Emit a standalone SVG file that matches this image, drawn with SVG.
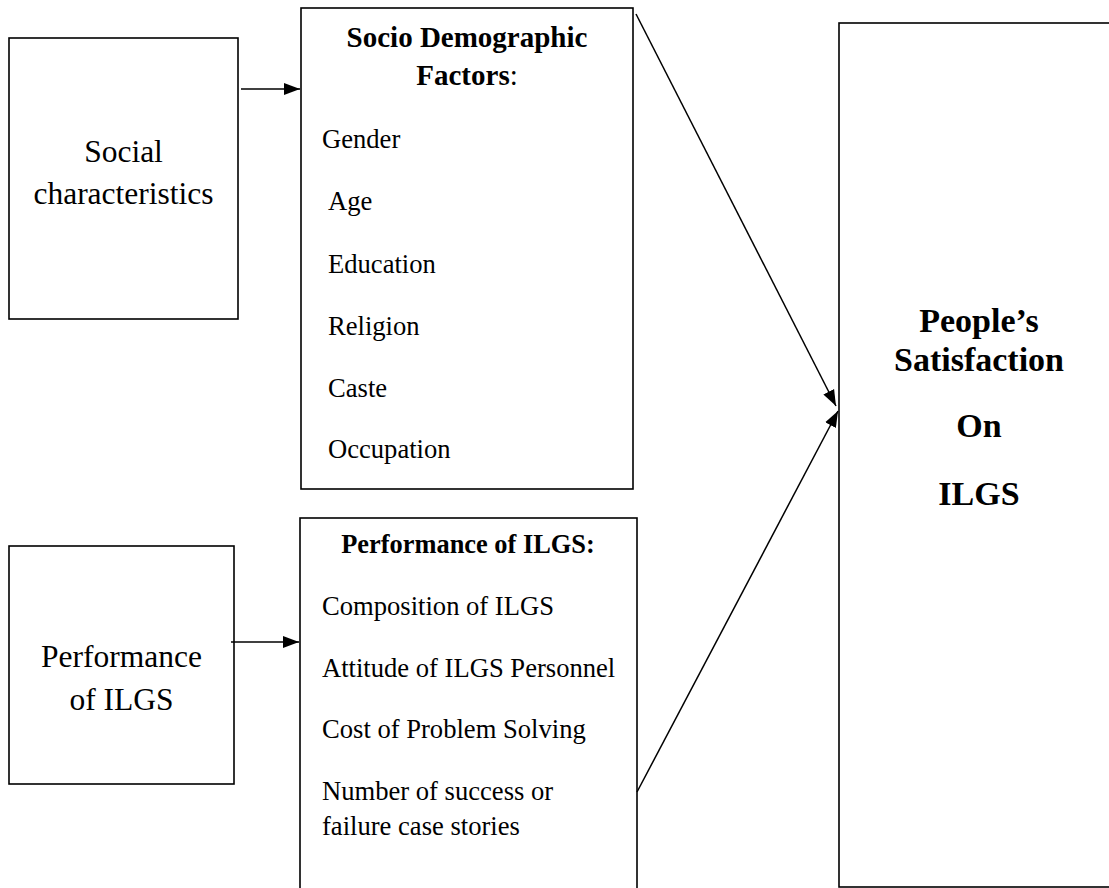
<svg xmlns="http://www.w3.org/2000/svg" width="1109" height="888" viewBox="0 0 1109 888">
<style>
.box{fill:#fff;stroke:#000;stroke-width:1.6}
.t{font-family:"Liberation Serif","Times New Roman",serif;fill:#000}
.b{font-weight:bold}
.item{font-size:26.6px}
.conn{stroke:#000;stroke-width:1.5;fill:none}
</style>
<defs>
<marker id="ah" markerUnits="userSpaceOnUse" markerWidth="17" markerHeight="14" refX="16" refY="7" orient="auto">
<path d="M0,1 L16,7 L0,13 Z" fill="#000"/>
</marker>
</defs>
<rect width="1109" height="888" fill="#fff"/>
<g id="social">
<rect class="box" x="9" y="38" width="229" height="281"/>
<text class="t" font-size="31.5" text-anchor="middle" x="123.5" y="162">Social</text>
<text class="t" font-size="31.5" text-anchor="middle" x="123.5" y="204">characteristics</text>
</g>
<g id="socio">
<rect class="box" x="301" y="8" width="332" height="481"/>
<text class="t b" font-size="29" text-anchor="middle" x="467" y="47">Socio Demographic</text>
<text class="t" font-size="29" text-anchor="middle" x="467" y="85"><tspan class="b">Factors</tspan>:</text>
<text class="t item" x="322" y="148">Gender</text>
<text class="t item" x="328" y="210">Age</text>
<text class="t item" x="328" y="273">Education</text>
<text class="t item" x="328" y="335">Religion</text>
<text class="t item" x="328" y="397">Caste</text>
<text class="t item" x="328" y="458">Occupation</text>
</g>
<g id="perfleft">
<rect class="box" x="9" y="546" width="225" height="238"/>
<text class="t" font-size="31.5" text-anchor="middle" x="121.5" y="667">Performance</text>
<text class="t" font-size="31.5" text-anchor="middle" x="121.5" y="710">of ILGS</text>
</g>
<g id="perf">
<rect class="box" x="300" y="518" width="337" height="380"/>
<text class="t b" font-size="26.4" text-anchor="middle" x="468" y="553">Performance of ILGS:</text>
<text class="t item" x="322" y="615">Composition of ILGS</text>
<text class="t item" x="322" y="677">Attitude of ILGS Personnel</text>
<text class="t item" x="322" y="738">Cost of Problem Solving</text>
<text class="t item" x="322" y="800">Number of success or</text>
<text class="t item" x="322" y="835">failure case stories</text>
</g>
<g id="satisfaction">
<rect class="box" x="839" y="23" width="290" height="864"/>
<text class="t b" font-size="34" text-anchor="middle" x="979" y="332">People’s</text>
<text class="t b" font-size="34" text-anchor="middle" x="979" y="371">Satisfaction</text>
<text class="t b" font-size="34" text-anchor="middle" x="979" y="437">On</text>
<text class="t b" font-size="34" text-anchor="middle" x="979" y="505">ILGS</text>
</g>
<g id="connectors">
<line class="conn" x1="241" y1="89" x2="300" y2="89" marker-end="url(#ah)"/>
<line class="conn" x1="231" y1="642" x2="299" y2="642" marker-end="url(#ah)"/>
<line class="conn" stroke-width="1.1" x1="636" y1="14" x2="836" y2="406" marker-end="url(#ah)"/>
<line class="conn" x1="637" y1="792" x2="838" y2="411" marker-end="url(#ah)"/>
</g>
</svg>
